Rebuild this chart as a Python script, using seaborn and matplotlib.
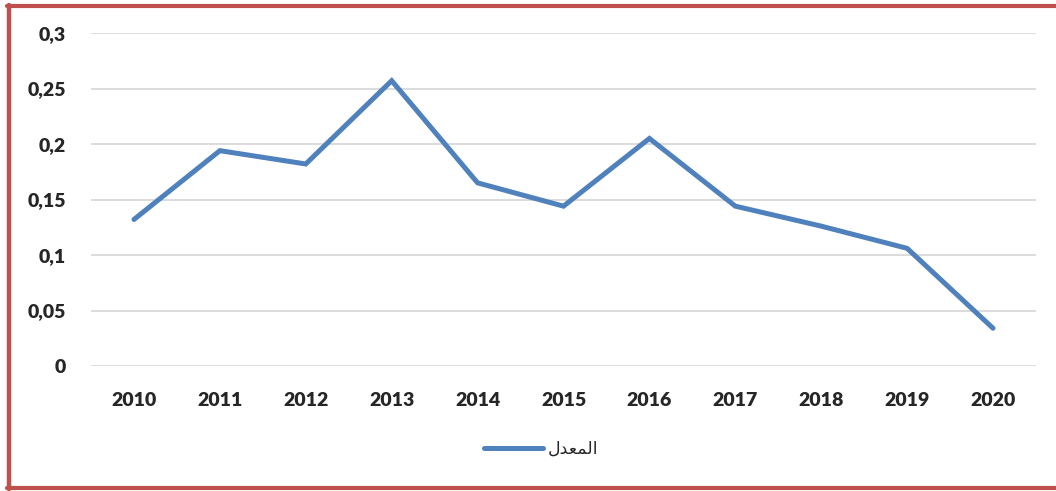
import pandas as pd
import matplotlib.pyplot as plt
import seaborn as sns
from matplotlib.lines import Line2D

years = ['2010', '2011', '2012', '2013', '2014', '2015', '2016', '2017', '2018', '2019', '2020']
rate = [0.132, 0.194, 0.182, 0.257, 0.165, 0.144, 0.205, 0.144, 0.126, 0.106, 0.034]
y_ticks = [0, 0.05, 0.1, 0.15, 0.2, 0.25, 0.3]
y_tick_labels = ['0', '0,05', '0,1', '0,15', '0,2', '0,25', '0,3']
series_name = 'المعدل'
# matplotlib does no arabic shaping, so the same word in presentation forms, visual order
series_name_shaped = '\uFEDD\uFEAA\uFECC\uFEE4\uFEDF\uFE8D'

df = pd.DataFrame({'year': years, 'rate': rate})

sns.set_style('white')
plt.rcParams['font.family'] = ['Lato', 'DejaVu Sans']

fig = plt.figure(figsize=(10.56, 4.91), dpi=100)
ax = fig.add_axes([91 / 1056, 125 / 491, 945 / 1056, 333 / 491])

sns.lineplot(data=df, x='year', y='rate', ax=ax, color='#4F81BD', linewidth=3.6,
             solid_capstyle='round', solid_joinstyle='miter', sort=False)

ax.set_xlim(-0.5, len(years) - 0.5)
ax.set_ylim(0, 0.3)
ax.set_yticks(y_ticks)
ax.set_yticklabels(y_tick_labels, fontsize=14, fontweight='heavy')
ax.set_xticks(range(len(years)))
ax.set_xticklabels(years, fontsize=14, fontweight='heavy')
ax.tick_params(axis='y', length=0, pad=18)
ax.tick_params(axis='x', length=0, pad=19)
ax.set_xlabel('')
ax.set_ylabel('')
ax.grid(axis='y', color='#D9D9D9', linewidth=1.3)
ax.set_axisbelow(True)
for s in ax.spines.values():
    s.set_visible(False)

# legend
handle = Line2D([0], [0], color='#4F81BD', linewidth=3.6, solid_capstyle='round')
fig.legend([handle], [series_name_shaped], loc='center', bbox_to_anchor=(541 / 1056, 1 - 449 / 491),
           frameon=False, handlelength=3.4, handletextpad=0.3,
           prop={'family': 'DejaVu Sans', 'size': 12.5})

# red frame around the chart
red = '#C0504D'
fig.add_artist(Line2D([9 / 1056, 9 / 1056], [1 - 5 / 491, 1 - 489 / 491], color=red, linewidth=3.2))
fig.add_artist(Line2D([7 / 1056, 1], [1 - 5.5 / 491, 1 - 5.5 / 491], color=red, linewidth=3.0))
fig.add_artist(Line2D([7 / 1056, 1], [1 - 488 / 491, 1 - 488 / 491], color=red, linewidth=3.0))

fig.savefig('out.png', dpi=100)
